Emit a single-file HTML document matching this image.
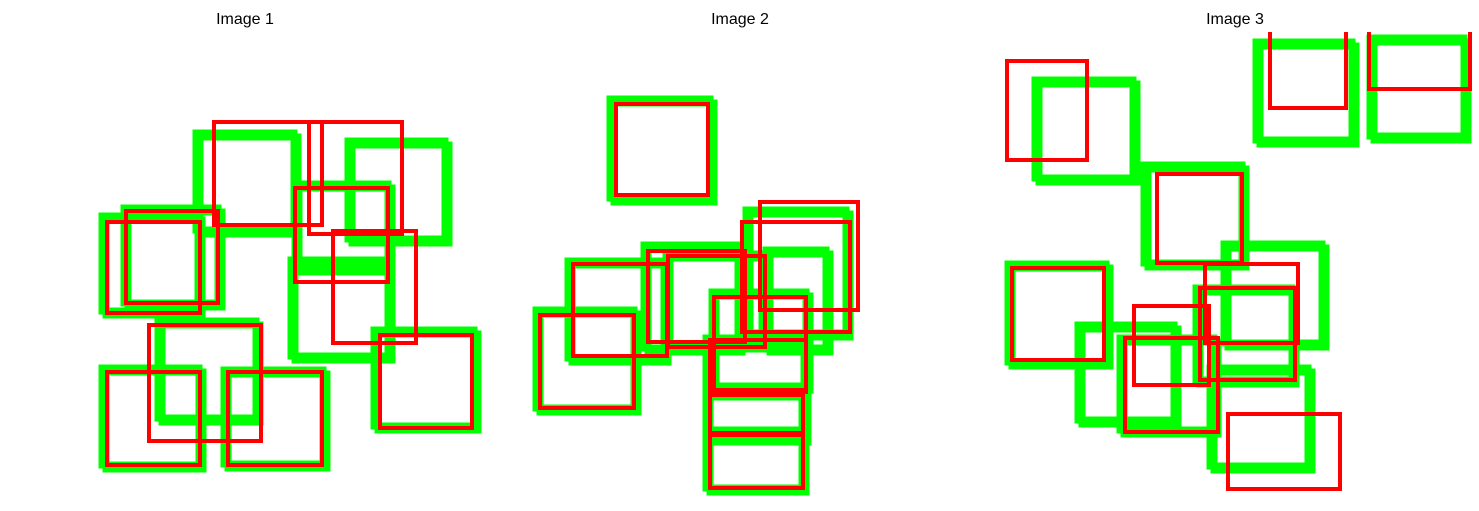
<!DOCTYPE html>
<html><head><meta charset="utf-8"><style>
body{margin:0;background:#fff;}
svg{display:block;font-family:"Liberation Sans",sans-serif;}
</style></head><body>
<svg id="chart" width="1479" height="511">
<text x="245" y="24" font-size="16" text-anchor="middle">Image 1</text>
<text x="740" y="24" font-size="16" text-anchor="middle">Image 2</text>
<text x="1235" y="24" font-size="16" text-anchor="middle">Image 3</text>
<g id="boxes"></g>
</svg>
<script>
// [x0,y0,x1,y1] in pixel space of each image panel
const greenBoxes1=[[198,135,296,232],[350,143,447,241],[297,186,390,270],[104,218,200,313],[126,210,220,305],[293,262,390,358],[160,323,258,420],[376,332,476,428],[104,370,201,467],[226,372,325,466]];
const redBoxes1=[[214,122,322,225],[309,122,402,234],[295,188,388,282],[107,222,200,313],[126,211,218,303],[333,231,416,343],[149,325,261,441],[107,372,200,465],[228,372,322,465],[380,335,472,428]];
const greenBoxes2=[[612,101,712,200],[748,212,848,335],[768,252,828,350],[570,263,666,360],[646,247,740,350],[668,256,764,347],[538,312,636,410],[714,294,808,388],[708,340,806,440],[708,395,804,490],[708,432,804,490]];
const redBoxes2=[[616,104,708,195],[760,202,858,310],[742,222,850,332],[573,264,667,356],[648,251,745,342],[668,256,765,347],[540,315,634,408],[714,297,806,390],[710,340,806,392],[710,395,803,435],[710,433,803,488]];
const greenBoxes3=[[1037,82,1135,180],[1258,44,1354,142],[1372,40,1466,138],[1146,167,1244,265],[1226,246,1324,345],[1010,266,1108,364],[1080,327,1176,422],[1122,340,1216,432],[1198,290,1294,382],[1212,370,1310,468]];
const redBoxes3=[[1007,61,1087,160],[1270,20,1346,108],[1369,20,1470,89],[1157,174,1242,263],[1205,264,1298,343],[1200,288,1295,380],[1134,306,1209,385],[1012,268,1104,360],[1125,338,1218,432],[1228,414,1340,489]];
const NS="http://www.w3.org/2000/svg";
const g=document.getElementById('boxes');
const clip=document.createElementNS(NS,'clipPath');clip.setAttribute('id','c');
const cr=document.createElementNS(NS,'rect');cr.setAttribute('x',0);cr.setAttribute('y',32);cr.setAttribute('width',1479);cr.setAttribute('height',479);
clip.appendChild(cr);g.appendChild(clip);g.setAttribute('clip-path','url(#c)');
function rect(b,color,w,off,name){
  const r=document.createElementNS(NS,'rect');
  r.setAttribute('x',b[0]+off);r.setAttribute('y',b[1]+off);
  r.setAttribute('width',b[2]-b[0]);r.setAttribute('height',b[3]-b[1]);
  r.setAttribute('fill','none');r.setAttribute('stroke',color);r.setAttribute('stroke-width',w);
  
  
  g.appendChild(r);
}
[[greenBoxes1,redBoxes1],[greenBoxes2,redBoxes2],[greenBoxes3,redBoxes3]].forEach((p,i)=>{
  p[0].forEach(b=>{rect(b,'#00ff00',7,-2,'ground-truth-box');rect(b,'#00ff00',7,2,'ground-truth-box-shadow');});
});
[[greenBoxes1,redBoxes1],[greenBoxes2,redBoxes2],[greenBoxes3,redBoxes3]].forEach((p,i)=>{
  p[1].forEach(b=>rect(b,'#ff0000',4,0,'predicted-box'));
});
</script>
</body></html>
